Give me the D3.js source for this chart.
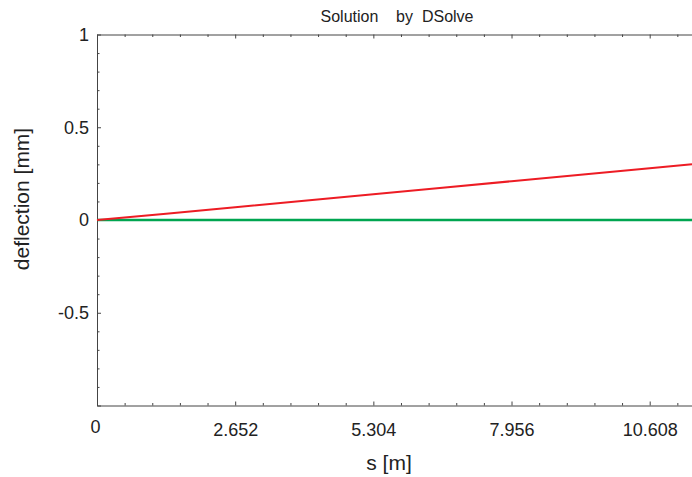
<!DOCTYPE html>
<html>
<head>
<meta charset="utf-8">
<script src="https://cdn.jsdelivr.net/npm/d3@7"></script>
<style>
  body { margin: 0; background: #fff; }
  svg { display: block; font-family: "Liberation Sans", Arial, Helvetica, sans-serif; }
  .axis path, .axis line { stroke: #444; }
  .axis text { fill: #222; }
</style>
</head>
<body>
<svg width="692" height="477"></svg>
<script>
// data
const sValues = [0, 1.326, 2.652, 3.978, 5.304, 6.63, 7.956, 9.282, 10.608, 11.42];
const deflection = [0, 0.034, 0.069, 0.104, 0.139, 0.174, 0.209, 0.244, 0.279, 0.300];
const baseline = [0, 0, 0, 0, 0, 0, 0, 0, 0, 0];

const xMajor = [0, 2.652, 5.304, 7.956, 10.608];
const yMajor = [-1, -0.5, 0, 0.5, 1];
const yLabels = ['', '-0.5', '0', '0.5', '1'];

const svg = d3.select('svg');
const width = +svg.attr('width');
const height = +svg.attr('height');

const margin = {top: 34.5, right: 0, bottom: 71.5, left: 97};
const innerW = width - margin.left - margin.right;
const innerH = height - margin.top - margin.bottom;

const x = d3.scaleLinear().domain([0, 11.42]).range([0, innerW]);
const y = d3.scaleLinear().domain([-1, 1]).range([innerH, 0]);

const xMinor = d3.range(0, 11.42, 0.5304).filter(v => !xMajor.some(m => Math.abs(m - v) < 1e-6));
const yMinor = d3.range(-10, 11).map(v => v / 10).filter(v => Math.abs(v * 2 - Math.round(v * 2)) > 1e-6);

const g = svg.append('g')
    .attr('transform', `translate(${margin.left}, ${margin.top})`);

// bottom axis
g.append('g')
    .attr('class', 'axis')
    .attr('transform', `translate(0, ${innerH})`)
    .call(d3.axisBottom(x).tickValues(xMajor).tickSize(-4).tickSizeOuter(0)
        .tickPadding(18).tickFormat(d => d === 0 ? '0' : d3.format('.3f')(d)))
    .call(a => a.selectAll('text').attr('font-size', 18).attr('font-family', null))
    .call(a => a.selectAll('.tick').filter(d => d === 0).select('text').attr('dy', '0.55em').attr('dx', '-2'));

g.append('g')
    .attr('class', 'axis')
    .attr('transform', `translate(0, ${innerH})`)
    .call(d3.axisBottom(x).tickValues(xMinor).tickSize(-2.5).tickFormat(''))
    .call(a => a.select('.domain').remove());

// top axis (ticks only)
g.append('g')
    .attr('class', 'axis')
    .call(d3.axisTop(x).tickValues(xMajor).tickSize(-4).tickSizeOuter(0).tickFormat(''));

g.append('g')
    .attr('class', 'axis')
    .call(d3.axisTop(x).tickValues(xMinor).tickSize(-2.5).tickFormat(''))
    .call(a => a.select('.domain').remove());

// left axis
g.append('g')
    .attr('class', 'axis')
    .call(d3.axisLeft(y).tickValues(yMajor).tickSize(-4).tickSizeOuter(0)
        .tickPadding(8).tickFormat((d, i) => yLabels[i]))
    .call(a => a.selectAll('text').attr('font-size', 18).attr('font-family', null));

g.append('g')
    .attr('class', 'axis')
    .call(d3.axisLeft(y).tickValues(yMinor).tickSize(-2.5).tickFormat(''))
    .call(a => a.select('.domain').remove());

const line = d3.line()
    .x((d, i) => x(sValues[i]))
    .y(d => y(d));

g.append('path')
    .datum(baseline)
    .attr('fill', 'none')
    .attr('stroke', '#00a550')
    .attr('stroke-width', 2.5)
    .attr('d', line);

g.append('path')
    .datum(deflection)
    .attr('fill', 'none')
    .attr('stroke', '#ed1c24')
    .attr('stroke-width', 2)
    .attr('d', line);

// title and axis labels
svg.append('text')
    .attr('x', 397)
    .attr('y', 22)
    .attr('text-anchor', 'middle')
    .attr('font-size', 16)
    .attr('fill', '#222')
    .style('white-space', 'pre')
    .text('Solution    by  DSolve');

svg.append('text')
    .attr('x', 389)
    .attr('y', 470)
    .attr('text-anchor', 'middle')
    .attr('font-size', 21)
    .attr('fill', '#222')
    .text('s [m]');

svg.append('text')
    .attr('transform', `translate(29, 199) rotate(-90)`)
    .attr('text-anchor', 'middle')
    .attr('font-size', 21)
    .attr('fill', '#222')
    .text('deflection [mm]');
</script>
</body>
</html>
